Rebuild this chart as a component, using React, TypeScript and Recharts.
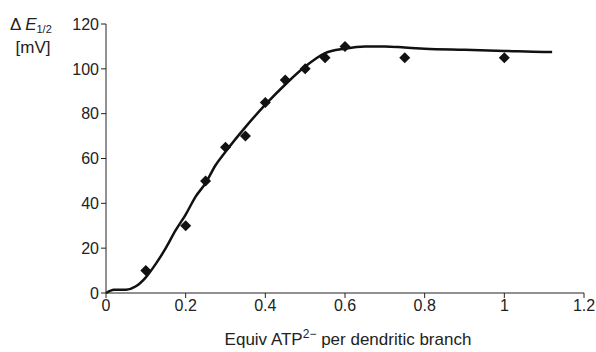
import React from 'react';
import { ComposedChart, Line, Scatter, XAxis, YAxis, Label } from 'recharts';

// fitted curve
const curveX = [0, 0.02, 0.05, 0.075, 0.1, 0.125, 0.15, 0.175, 0.2, 0.225, 0.25, 0.275, 0.3, 0.35, 0.4, 0.45, 0.5, 0.55, 0.6, 0.65, 0.7, 0.75, 0.8, 0.9, 1.0, 1.1, 1.12];
const curveY = [0, 1.5, 1.5, 3, 7, 13, 20, 28, 35, 43, 49, 57, 63, 74, 84, 93, 101, 107, 109, 110, 110, 109.5, 109, 108.5, 108, 107.5, 107.5];

// measured points
const pointX = [0.1, 0.2, 0.25, 0.3, 0.35, 0.4, 0.45, 0.5, 0.55, 0.6, 0.75, 1.0];
const pointY = [10, 30, 50, 65, 70, 85, 95, 100, 105, 110, 105, 105];

const xTicks = [0, 0.2, 0.4, 0.6, 0.8, 1, 1.2];
const yTicks = [0, 20, 40, 60, 80, 100, 120];

const curve = curveX.map((x, i) => ({ x, y: curveY[i] }));
const points = pointX.map((x, i) => ({ x, y: pointY[i] }));

const font = 'Liberation Sans, Arial, sans-serif';

const XTitle = ({ viewBox }: any) => {
  const cx = viewBox.x + viewBox.width / 2 + 3;
  return (
    <text x={cx} y={viewBox.y + 52} textAnchor="middle" fontSize={17} fill="#222" fontFamily={font}>
      Equiv ATP<tspan dy={-7} fontSize={12}>2−</tspan>
      <tspan dy={7}> per dendritic branch</tspan>
    </text>
  );
};

const YTitle = () => (
  <g fontFamily={font} fill="#222" fontSize={17}>
    <text x={10} y={30}>
      Δ <tspan fontStyle="italic">E</tspan>
      <tspan fontSize={11} dy={3}>1/2</tspan>
    </text>
    <text x={33} y={53} textAnchor="middle">[mV]</text>
  </g>
);

const Diamond = (props: any) => {
  const { cx, cy } = props;
  const r = 5.5;
  return <polygon points={`${cx},${cy - r} ${cx + r},${cy} ${cx},${cy + r} ${cx - r},${cy}`} fill="#111" />;
};

export default function App() {
  return (
    <div style={{ position: 'absolute', left: 0, top: 0 }}>
      <ComposedChart width={596} height={352} margin={{ top: 24, right: 12, bottom: 19, left: 0 }}>
        <XAxis
          type="number"
          dataKey="x"
          domain={[0, 1.2]}
          ticks={xTicks}
          tickFormatter={(v: number) => String(v)}
          stroke="#222"
          tick={{ fill: '#222', fontSize: 16, fontFamily: font }}
          tickSize={5}
          height={40}
          allowDuplicatedCategory={false}
        >
          <Label content={<XTitle />} />
        </XAxis>
        <YAxis
          type="number"
          dataKey="y"
          domain={[0, 120]}
          ticks={yTicks}
          stroke="#222"
          tick={{ fill: '#222', fontSize: 16, fontFamily: font }}
          tickSize={5}
          width={106}
        />
        <Line
          data={curve}
          dataKey="y"
          type="monotone"
          stroke="#111"
          strokeWidth={2.5}
          dot={false}
          isAnimationActive={false}
        />
        <Scatter data={points} dataKey="y" fill="#111" shape={<Diamond />} isAnimationActive={false} />
        <YTitle />
      </ComposedChart>
    </div>
  );
}
